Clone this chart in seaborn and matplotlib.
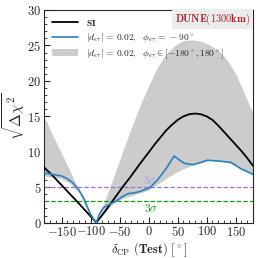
import matplotlib
matplotlib.use("Agg")
import matplotlib.pyplot as plt
import seaborn as sns
from matplotlib.ticker import MultipleLocator

# SI curve
delta_si = [-180, -165, -150, -135, -120, -105, -90, -75, -60, -45, -30, -15, 0, 10, 20, 30,
            40, 50, 60, 70, 80, 90, 100, 110, 120, 130, 140, 150, 160, 170, 180]
chi_si = [7.8, 6.6, 5.3, 4.0, 2.7, 1.35, 0.0, 1.6, 3.3, 5.0, 6.6, 8.3, 9.9, 11.0, 12.0, 13.0,
          13.8, 14.5, 15.0, 15.3, 15.4, 15.3, 15.0, 14.5, 13.7, 12.8, 11.9, 11.0, 10.1, 9.1, 8.0]

# NSI with phi = -90
delta_nsi = [-180, -165, -150, -140, -130, -120, -112, -106, -100, -95, -90, -85, -78, -72,
             -65, -57, -50, -45, -35, -25, -15, -5, 3, 15, 30, 44, 52, 61, 70, 78, 90,
             101, 120, 142, 159, 170, 180]
chi_nsi = [7.0, 6.8, 6.6, 6.2, 5.6, 4.6, 3.5, 2.3, 1.2, 0.5, 0.0, 1.2, 2.1, 2.4,
           2.7, 3.0, 3.4, 3.7, 4.1, 4.2, 4.4, 4.7, 5.0, 6.0, 7.6, 9.4, 8.9, 8.4, 8.25, 8.2, 8.5,
           8.8, 8.7, 8.5, 7.6, 7.2, 6.8]

# NSI band over phi in [-180, 180]
band_delta = [-180, -165, -150, -135, -120, -110, -100, -90, -80, -70, -60, -45, -30, -15,
              0, 15, 30, 45, 60, 75, 90, 105, 120, 135, 150, 165, 180]
band_hi = [14.9, 12.3, 9.8, 7.2, 4.6, 2.9, 1.3, 0.0, 2.1, 4.3, 6.5, 10.0, 13.3, 16.5,
           19.3, 21.9, 23.8, 25.0, 25.7, 25.8, 25.6, 25.1, 24.3, 23.0, 21.0, 18.2, 15.4]
band_lo = [6.6, 6.4, 6.2, 5.5, 4.2, 2.5, 0.9, 0.0, 1.0, 1.9, 2.8, 3.4, 3.8, 4.2,
           4.6, 5.4, 6.2, 7.0, 7.6, 8.1, 8.5, 8.8, 8.7, 8.55, 8.0, 7.3, 6.8]

sns.set_style("ticks")
plt.rcParams["font.family"] = "serif"
plt.rcParams["font.serif"] = ["cmr10", "DejaVu Serif"]
plt.rcParams["mathtext.fontset"] = "cm"
plt.rcParams["axes.formatter.use_mathtext"] = True
plt.rcParams["axes.unicode_minus"] = True

fig = plt.figure(figsize=(2.58, 2.58), dpi=100)
ax = fig.add_axes([0.171, 0.137, 0.81, 0.824])

ax.fill_between(band_delta, band_lo, band_hi, color="#cccccc", lw=0, zorder=1,
                label=r"$|d_{e\tau}|\,=\,\mathbf{0.02},\ \ \phi_{e\tau}\in[-\mathbf{180}^\circ,\mathbf{180}^\circ]$")
sns.lineplot(x=delta_si, y=chi_si, color="black", lw=1.3, ax=ax, label=r"$\mathbf{SI}$", zorder=3)
sns.lineplot(x=delta_nsi, y=chi_nsi, color="#2b82bd", lw=1.2, ax=ax,
             label=r"$|d_{e\tau}|\,=\,\mathbf{0.02},\ \ \phi_{e\tau}\,=\,-\mathbf{90}^\circ$", zorder=3)

ax.axhline(5, color="#9b72d9", ls="--", lw=0.9, zorder=2)
ax.axhline(3, color="#0f9a0f", ls="--", lw=0.9, zorder=2)
ax.text(3, 5.2, r"$\mathbf{5}\sigma$", color="#b39ae3", fontsize=8.5, ha="center", va="bottom")
ax.text(5, 2.0, r"$\mathbf{3}\sigma$", color="#0f9a0f", fontsize=8.5, ha="center", va="center")

ax.set_xlim(-180, 180)
ax.set_ylim(0, 30)
ax.xaxis.set_major_locator(MultipleLocator(50))
ax.xaxis.set_minor_locator(MultipleLocator(10))
ax.yaxis.set_major_locator(MultipleLocator(5))
ax.yaxis.set_minor_locator(MultipleLocator(1))
ax.tick_params(which="both", direction="in", labelsize=9, pad=2)
ax.tick_params(which="major", length=4, width=0.8)
ax.tick_params(which="minor", length=2, width=0.6)

ax.set_xlabel(r"$\delta_{\rm CP}\ \mathbf{(Test)}\ [^\circ]$", fontsize=9, labelpad=1)
ax.set_ylabel(r"$\sqrt{\mathbf{\Delta}\chi^2}$", fontsize=11, labelpad=0)

ax.text(0.985, 0.993, r"$\mathbf{DUNE(1300km)}$", transform=ax.transAxes, ha="right", va="top",
        color="#a8232e", fontsize=7.5,
        bbox=dict(boxstyle="square,pad=0.25", facecolor="#ececec", edgecolor="none"))

handles, labels = ax.get_legend_handles_labels()
order = [labels.index(l) for l in labels if "SI" in l] + \
        [labels.index(l) for l in labels if "-\\mathbf{90}" in l] + \
        [labels.index(l) for l in labels if "in[" in l]
ax.legend([handles[i] for i in order], [labels[i] for i in order], loc="upper left",
          frameon=False, fontsize=6.8, handlelength=2.8, borderaxespad=0.4, labelspacing=0.35)

fig.savefig("out.png", dpi=100)
